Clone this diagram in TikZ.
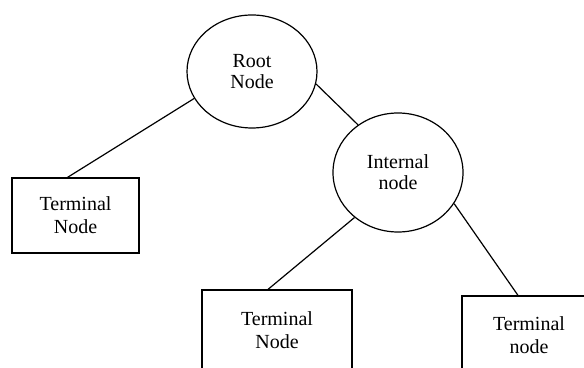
\documentclass[tikz,border=0pt]{standalone}
\usepackage{fontspec}
\setmainfont{Liberation Serif}
\usepackage{tikz}
\usetikzlibrary{shapes,shapes.misc}

\begin{document}
\begin{tikzpicture}[x=0.5pt, y=-0.5pt, line width=0.6pt,
        every ellipse node/.append style={draw, inner sep=0pt, align=center, font=\fontsize{10}{10.5}\selectfont}]
      \tikzstyle{term} = [draw, rectangle, align=center, inner sep=0pt, font=\fontsize{10}{11.5}\selectfont]
      \useasboundingbox (0,0) rectangle (584,368);
      \node (ROOT) [ellipse, minimum width=65pt, minimum height=56.5pt] at (252,71.5) {Root\\Node};
      \node (internal) [ellipse, minimum width=65pt, minimum height=59.5pt, font=\fontsize{10}{11}\selectfont] at (398,172.5) {Internal\\node};
      \node (TermLeft) [term, minimum width=63.5pt, minimum height=37.5pt] at (75.5,215.5) {Terminal\\Node};
      \node (TermMid) [term, minimum width=75pt, minimum height=40pt] at (277,330) {Terminal\\Node};
      \node (TermRight) [term, minimum width=67pt, minimum height=39pt] at (529,335) {Terminal\\node};
      \draw (ROOT.205) -- ([xshift=-4pt]TermLeft.north);
      \draw (ROOT.349) -- (internal.130);
      \draw (internal.226) -- ([xshift=-4.5pt]TermMid.north);
      \draw (internal.331) -- ([xshift=-5.5pt]TermRight.north);
    \end{tikzpicture}
\end{document}
